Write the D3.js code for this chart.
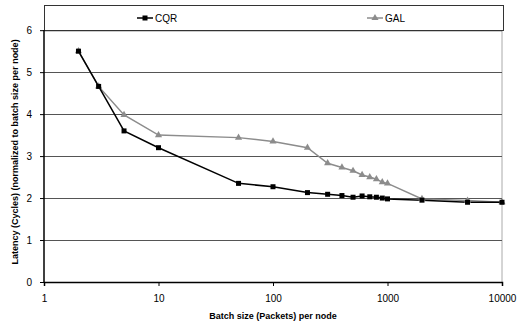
<!DOCTYPE html>
<html>
<head>
<meta charset="utf-8">
<script src="https://cdn.jsdelivr.net/npm/d3@7"></script>
<style>
  body { margin: 0; background: #fff; }
  text { font-family: "Liberation Sans", Arial, sans-serif; }
</style>
</head>
<body>
<div id="chart"></div>
<script>
// Datos
const batchSizes = [2, 3, 5, 10, 50, 100, 200, 300, 400, 500, 600, 700, 800, 900, 1000, 2000, 5000, 10000];
const cqrValues = [5.5, 4.66, 3.6, 3.2, 2.35, 2.27, 2.13, 2.09, 2.06, 2.02, 2.05, 2.03, 2.02, 2.0, 1.98, 1.95, 1.9, 1.9];
const galValues = [5.5, 4.66, 3.98, 3.5, 3.44, 3.35, 3.2, 2.83, 2.73, 2.65, 2.55, 2.5, 2.45, 2.38, 2.35, 1.98, 1.94, 1.9];
const xTicks = [1, 10, 100, 1000, 10000];
const yTicks = [0, 1, 2, 3, 4, 5, 6];

const W = 523, H = 324;
const margin = {top: 5, right: 21, bottom: 42, left: 44};
const width = W - margin.left - margin.right,
      height = H - margin.top - margin.bottom;

let svg = d3.select('#chart').append('svg')
    .attr('width', W).attr('height', H)
  .append('g')
    .attr('transform', 'translate(' + margin.left + ',' + margin.top + ')');

let x = d3.scaleLog().domain([1, 10000]).range([0, width]);
let y = d3.scaleLinear().domain([0, 6.6]).range([height, 0]);

// borde derecho gris del área
svg.append('line')
    .attr('x1', width).attr('x2', width)
    .attr('y1', 0).attr('y2', height)
    .attr('stroke', '#aaa').attr('stroke-width', 1);

// rejilla horizontal
svg.append('g').selectAll('line')
    .data(yTicks.filter(d => d > 0))
    .enter().append('line')
    .attr('x1', 0).attr('x2', width)
    .attr('y1', d => Math.round(y(d)) + 0.5).attr('y2', d => Math.round(y(d)) + 0.5)
    .attr('stroke', d => d == 6 ? '#333' : '#555')
    .attr('stroke-width', d => d == 6 ? 1.5 : 1);

// leyenda (caja arriba)
svg.append('rect')
    .attr('x', 0.5).attr('y', 0.5)
    .attr('width', width + 1).attr('height', Math.round(y(6)))
    .attr('fill', '#fff').attr('stroke', '#333').attr('stroke-width', 1);

// ejes
let xAxis = d3.axisBottom(x).tickValues(xTicks).tickFormat(d3.format('d')).tickSize(4);
let gx = svg.append('g')
    .attr('transform', 'translate(0,' + height + ')')
    .call(xAxis);
gx.select('.domain').attr('stroke', '#000').attr('stroke-width', 1.5);
gx.selectAll('.tick line').attr('stroke', '#000');
gx.selectAll('.tick text').attr('font-size', 10).attr('dy', '1.3em').attr('fill', '#000');

let yAxis = d3.axisLeft(y).tickValues(yTicks).tickFormat(d3.format('d')).tickSize(4);
let gy = svg.append('g').call(yAxis);
gy.select('.domain').attr('d', 'M0,' + Math.round(y(6)) + 'V' + height).attr('stroke', '#000').attr('stroke-width', 1.5);
gy.selectAll('.tick line').attr('stroke', '#000');
gy.selectAll('.tick text').attr('font-size', 10).attr('dx', '-0.5em').attr('fill', '#000');

// títulos
svg.append('text')
    .attr('x', width / 2).attr('y', height + 37)
    .attr('text-anchor', 'middle')
    .attr('font-size', 9).attr('font-weight', 'bold')
    .text('Batch size (Packets) per node');

svg.append('text')
    .attr('transform', 'translate(' + (-26) + ',' + (y(3.1)) + ') rotate(-90)')
    .attr('text-anchor', 'middle')
    .attr('font-size', 9).attr('font-weight', 'bold')
    .text('Latency (Cycles) (normalized to batch size per node)');

// series
let line = d3.line()
    .x(d => x(d[0]))
    .y(d => y(d[1]));

const galData = batchSizes.map((b, i) => [b, galValues[i]]);
const cqrData = batchSizes.map((b, i) => [b, cqrValues[i]]);

svg.append('path').datum(galData)
    .attr('d', line).attr('fill', 'none')
    .attr('stroke', '#8c8c8c').attr('stroke-width', 1.5);
svg.append('path').datum(cqrData)
    .attr('d', line).attr('fill', 'none')
    .attr('stroke', '#000').attr('stroke-width', 1.5);

let tri = d3.symbol().type(d3.symbolTriangle).size(22);
svg.append('g').selectAll('path')
    .data(galData).enter().append('path')
    .attr('d', tri)
    .attr('transform', d => 'translate(' + x(d[0]) + ',' + y(d[1]) + ')')
    .attr('fill', '#8c8c8c');

svg.append('g').selectAll('rect')
    .data(cqrData).enter().append('rect')
    .attr('x', d => x(d[0]) - 2.5).attr('y', d => y(d[1]) - 2.5)
    .attr('width', 5).attr('height', 5)
    .attr('fill', '#000');

// entradas de leyenda
let legY = Math.round(y(6)) / 2 + 0.5;
let leg = svg.append('g');
leg.append('line').attr('x1', 93).attr('x2', 109).attr('y1', legY).attr('y2', legY)
    .attr('stroke', '#000').attr('stroke-width', 1.5);
leg.append('rect').attr('x', 98.5).attr('y', legY - 2.5).attr('width', 5).attr('height', 5).attr('fill', '#000');
leg.append('text').attr('x', 111).attr('y', legY).attr('dy', '0.35em')
    .attr('font-size', 10).text('CQR');

leg.append('line').attr('x1', 323).attr('x2', 339).attr('y1', legY).attr('y2', legY)
    .attr('stroke', '#8c8c8c').attr('stroke-width', 1.5);
leg.append('path').attr('d', tri).attr('transform', 'translate(331,' + legY + ')').attr('fill', '#8c8c8c');
leg.append('text').attr('x', 341).attr('y', legY).attr('dy', '0.35em')
    .attr('font-size', 10).text('GAL');
</script>
</body>
</html>
